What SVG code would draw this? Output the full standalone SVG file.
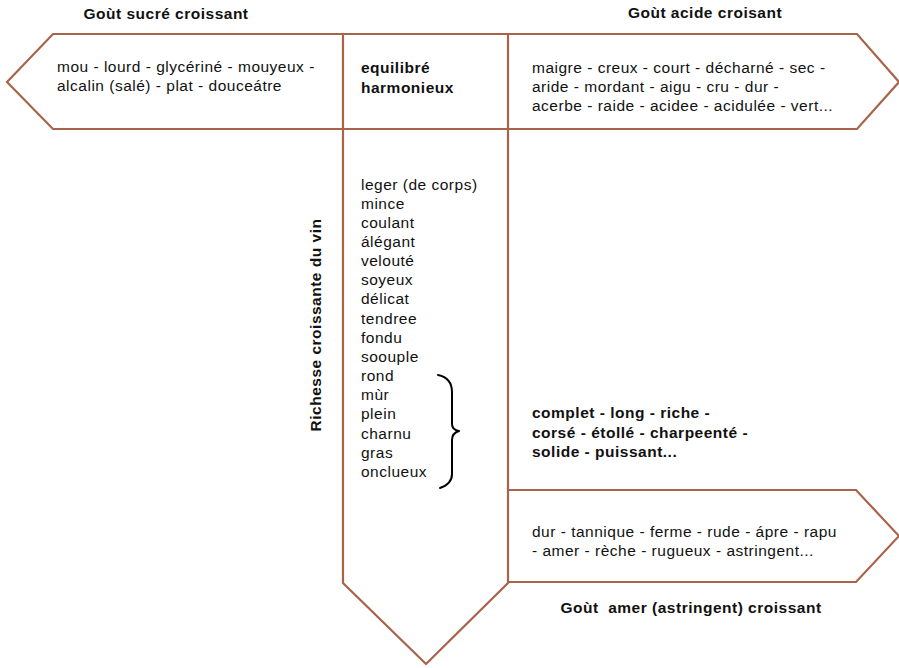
<svg xmlns="http://www.w3.org/2000/svg" width="899" height="668" viewBox="0 0 899 668">
  <style>
    .box { fill: none; stroke: #a8644a; stroke-width: 2.2; stroke-linejoin: miter; }
    .t { font-family: "Liberation Sans", Arial, sans-serif; font-size: 15.5px; letter-spacing: 0.5px; fill: #111; }
    .b { font-weight: bold; }
    .brace { fill: none; stroke: #000; stroke-width: 2; stroke-linecap: round; stroke-linejoin: round; }
  </style>
  <rect width="899" height="668" fill="#fff"/>

  <!-- curly bracket grouping the fuller terms -->
  <g id="connectors">
    <path id="brace" class="brace" d="M438,375 Q452,378 452,392 L452,424 Q452,430 459,431 Q452,433 452,440 L452,474 Q452,484 440,488"/>
  </g>

  <g id="sweet">
    <path class="box" d="M343,34 L53,34 L7,82 L53,129 L343,129"/>
    <text class="t b" x="166" y="19" text-anchor="middle">Goùt sucré croissant</text>
    <text class="t" x="57" y="72">mou - lourd - glycériné - mouyeux -</text>
    <text class="t" x="57" y="91">alcalin (salé) - plat - douceátre</text>
  </g>

  <g id="balanced">
    <path class="box" d="M343,34 L508,34 M343,129 L508,129"/>
    <text class="t b" x="361" y="73">equilibré</text>
    <text class="t b" x="361" y="93">harmonieux</text>
  </g>

  <g id="acid">
    <path class="box" d="M508,34 L857,34 L899,82 L857,129 L508,129"/>
    <text class="t b" x="705" y="18" text-anchor="middle">Goùt acide croisant</text>
    <text class="t" x="532" y="73">maigre - creux - court - décharné - sec -</text>
    <text class="t" x="532" y="92">aride - mordant - aigu - cru - dur -</text>
    <text class="t" x="532" y="111">acerbe - raide - acidee - acidulée - vert...</text>
  </g>

  <g id="body">
    <path class="box" d="M343,34 L343,583 L426,664 L508,583 L508,34"/>
    <text class="t b" transform="translate(321,325) rotate(-90)" text-anchor="middle">Richesse croissante du vin</text>
    <text class="t" x="361" y="190">leger (de corps)</text>
    <text class="t" x="361" y="209">mince</text>
    <text class="t" x="361" y="228">coulant</text>
    <text class="t" x="361" y="247">álégant</text>
    <text class="t" x="361" y="266">velouté</text>
    <text class="t" x="361" y="285">soyeux</text>
    <text class="t" x="361" y="304">délicat</text>
    <text class="t" x="361" y="324">tendree</text>
    <text class="t" x="361" y="343">fondu</text>
    <text class="t" x="361" y="362">soouple</text>
    <text class="t" x="361" y="381">rond</text>
    <text class="t" x="361" y="400">mùr</text>
    <text class="t" x="361" y="419">plein</text>
    <text class="t" x="361" y="439">charnu</text>
    <text class="t" x="361" y="458">gras</text>
    <text class="t" x="361" y="477">onclueux</text>
  </g>

  <g id="full">
    <text class="t b" x="532" y="418">complet - long - riche -</text>
    <text class="t b" x="532" y="438">corsé - étollé - charpeenté -</text>
    <text class="t b" x="532" y="457">solide - puissant...</text>
  </g>

  <g id="bitter">
    <path class="box" d="M508,490 L856,490 L899,536 L856,582 L508,582"/>
    <text class="t" x="532" y="537">dur - tannique - ferme - rude - ápre - rapu</text>
    <text class="t" x="532" y="556">- amer - rèche - rugueux - astringent...</text>
    <text class="t b" x="691" y="613" text-anchor="middle" xml:space="preserve">Goùt  amer (astringent) croissant</text>
  </g>
</svg>
